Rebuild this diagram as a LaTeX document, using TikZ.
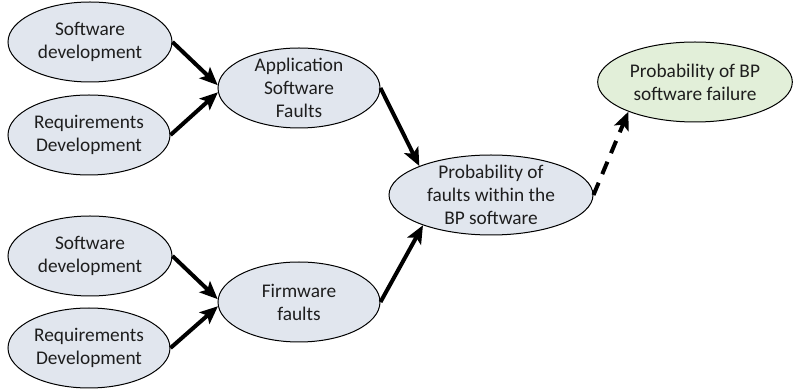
\documentclass[tikz,border=0pt]{standalone}
\usepackage{fontspec}
\setmainfont{Carlito}
\usetikzlibrary{shapes.geometric,arrows.meta}
\definecolor{greyfill}{HTML}{E1E6EE}
\definecolor{greenfill}{HTML}{E2EFD9}
\definecolor{textc}{HTML}{1E1E1E}
\tikzset{
  bub/.style={ellipse, draw=black, line width=0.75pt, fill=greyfill, inner sep=0pt, minimum height=60pt},
  txt/.style={align=center, font=\fontsize{14.5}{17.3}\selectfont, text=textc},
  arr/.style={line width=3pt, -{Stealth[length=13.5pt,width=11.5pt,inset=3pt]}},
}
\begin{document}
\begin{tikzpicture}[x=0.75pt,y=-0.75pt]
\useasboundingbox (0,0) rectangle (793,391);
\node[bub, minimum width=123pt, label={[txt]center:Software\\development}] (sd1) at (90,42) {};
\node[bub, minimum width=121.5pt, label={[txt]center:Requirements\\Development}] (rd1) at (89,135) {};
\node[bub, minimum width=121.5pt, label={[txt]center:Application\\Software\\Faults}] (asf) at (299,88) {};
\node[bub, minimum width=123pt, label={[txt]center:Software\\development}] (sd2) at (90,256) {};
\node[bub, minimum width=121.5pt, label={[txt]center:Requirements\\Development}] (rd2) at (89,348) {};
\node[bub, minimum width=121.5pt, label={[txt]center:Firmware\\faults}] (fw) at (299,302) {};
\node[bub, minimum width=153pt, label={[txt]center:Probability of\\faults within the\\BP software}] (pf) at (491,195) {};
\node[bub, fill=greenfill, minimum width=146pt, label={[txt]center:Probability of BP\\software failure}] (pbp) at (695,82) {};
\draw[arr] (sd1.east) -- (asf.178);
\draw[arr] (rd1.east) -- (asf.183);
\draw[arr] (sd2.east) -- (fw.178);
\draw[arr] (rd2.east) -- (fw.183);
\draw[arr] (asf.east) -- (pf.158);
\draw[arr] (fw.east) -- (pf.204);
\draw[arr, dash pattern=on 10pt off 7pt] (pf.east) -- (pbp.204);
\end{tikzpicture}
\end{document}
